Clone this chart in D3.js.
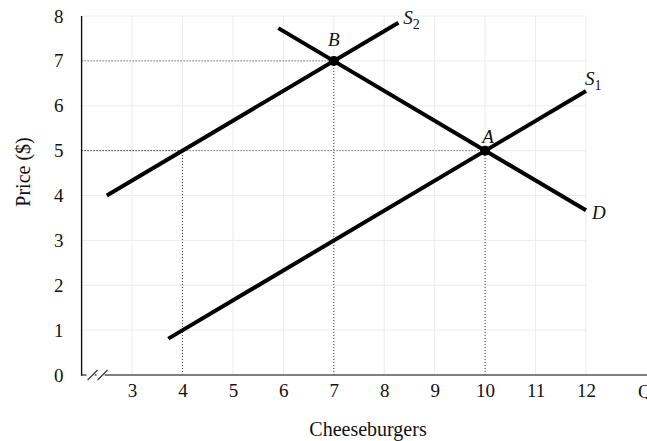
<!DOCTYPE html>
<html><head><meta charset="utf-8">
<script src="https://cdn.jsdelivr.net/npm/d3@7"></script>
<style>
body{margin:0;background:#fff;}
text{font-family:"Liberation Serif","Times New Roman",serif;fill:#111;}
</style></head>
<body><svg id="c" width="647" height="441"></svg>
<script>
// Data
const xTicks = [3,4,5,6,7,8,9,10,11,12];
const yTicks = [0,1,2,3,4,5,6,7,8];
const supply1 = [[3.72,0.81],[12,6.33]];
const supply2 = [[2.5,4],[8.28,7.85]];
const demand  = [[5.9,7.73],[12,3.67]];
const points = [{name:"A",q:10,p:5},{name:"B",q:7,p:7}];
const guides = [{q:4,p:5},{q:7,p:7},{q:10,p:5}];
const xTitle = "Cheeseburgers", yTitle = "Price ($)", qLabel = "Q";

const svg = d3.select("#c");
const x = d3.scaleLinear().domain([2,12]).range([81.6,586]);
const y = d3.scaleLinear().domain([0,8]).range([375,16]);

// grid
const g = svg.append("g");
g.selectAll(".vg").data(xTicks).join("line")
  .attr("x1",d=>x(d)).attr("x2",d=>x(d)).attr("y1",y(0)).attr("y2",y(8))
  .attr("stroke","#ececec").attr("stroke-width",1);
g.selectAll(".hg").data(yTicks.filter(d=>d>0)).join("line")
  .attr("x1",x(2)).attr("x2",x(12)).attr("y1",d=>y(d)).attr("y2",d=>y(d))
  .attr("stroke","#ececec").attr("stroke-width",1);

// dotted guides
guides.forEach(d=>{
  svg.append("line").attr("x1",x(2)).attr("x2",x(d.q)).attr("y1",y(d.p)).attr("y2",y(d.p))
    .attr("stroke","#444").attr("stroke-width",1).attr("stroke-dasharray","1,2");
  svg.append("line").attr("x1",x(d.q)).attr("x2",x(d.q)).attr("y1",y(0)).attr("y2",y(d.p))
    .attr("stroke","#444").attr("stroke-width",1).attr("stroke-dasharray","1,2");
});

// axes
const xAxis = d3.axisBottom(x).tickValues(xTicks).tickSize(0).tickPadding(9);
const xa = svg.append("g").attr("transform",`translate(0,${y(0)})`).call(xAxis);
xa.attr("font-size",null).attr("font-family",null);
xa.select(".domain").remove();
xa.selectAll("text").style("font-size","19px").attr("fill","#111");
svg.append("line").attr("x1",x(2)).attr("x2",647).attr("y1",y(0)).attr("y2",y(0))
  .attr("stroke","#555").attr("stroke-width",1.6);

const yAxis = d3.axisLeft(y).tickValues(yTicks).tickSize(0).tickPadding(18);
const ya = svg.append("g").attr("transform",`translate(${x(2)},0)`).call(yAxis);
ya.attr("font-size",null).attr("font-family",null);
ya.select(".domain").remove();
ya.selectAll("text").style("font-size","19px").attr("fill","#111");
svg.append("line").attr("x1",x(2)).attr("x2",x(2)).attr("y1",y(8)).attr("y2",y(0)+0.8)
  .attr("stroke","#111").attr("stroke-width",1.4);

// axis break marks
[0,10].forEach(o=>{
  svg.append("rect").attr("x",x(2)+5+o).attr("y",y(0)-3).attr("width",8).attr("height",6).attr("fill","#fff");
});
[0,10].forEach(o=>{
  svg.append("line").attr("x1",x(2)+6+o).attr("x2",x(2)+16+o).attr("y1",y(0)+5).attr("y2",y(0)-5)
    .attr("stroke","#333").attr("stroke-width",1.2);
});

svg.append("text").attr("x",638).attr("y",398).style("font-size","19px").text(qLabel);

// curves
const line = d3.line().x(d=>x(d[0])).y(d=>y(d[1]));
[supply1,supply2,demand].forEach(dd=>{
  svg.append("path").attr("d",line(dd)).attr("fill","none").attr("stroke","#000").attr("stroke-width",4);
});

svg.selectAll(".pt").data(points).join("circle")
  .attr("cx",d=>x(d.q)).attr("cy",d=>y(d.p)).attr("r",5).attr("fill","#000");

// labels
svg.append("text").attr("x",x(7)).attr("y",y(7)-15).attr("text-anchor","middle")
  .style("font-size","19px").attr("font-style","italic").text("B");
svg.append("text").attr("x",x(10)+3).attr("y",y(5)-8).attr("text-anchor","middle")
  .style("font-size","19px").attr("font-style","italic").text("A");
const s2 = svg.append("text").attr("x",x(8.28)+5).attr("y",y(7.85)+1).style("font-size","19px");
s2.append("tspan").attr("font-style","italic").text("S");
s2.append("tspan").style("font-size","14px").attr("dy",5).text("2");
const s1 = svg.append("text").attr("x",x(12)-1).attr("y",y(6.33)-6).style("font-size","19px");
s1.append("tspan").attr("font-style","italic").text("S");
s1.append("tspan").style("font-size","14px").attr("dy",5).text("1");
svg.append("text").attr("x",x(12)+6).attr("y",y(3.67)+9).style("font-size","19px")
  .attr("font-style","italic").text("D");

// titles
svg.append("text").attr("x",368).attr("y",436).attr("text-anchor","middle").style("font-size","20px").text(xTitle);
svg.append("text").attr("transform","translate(30,172) rotate(-90)").attr("text-anchor","middle")
  .style("font-size","20px").text(yTitle);
</script></body></html>
